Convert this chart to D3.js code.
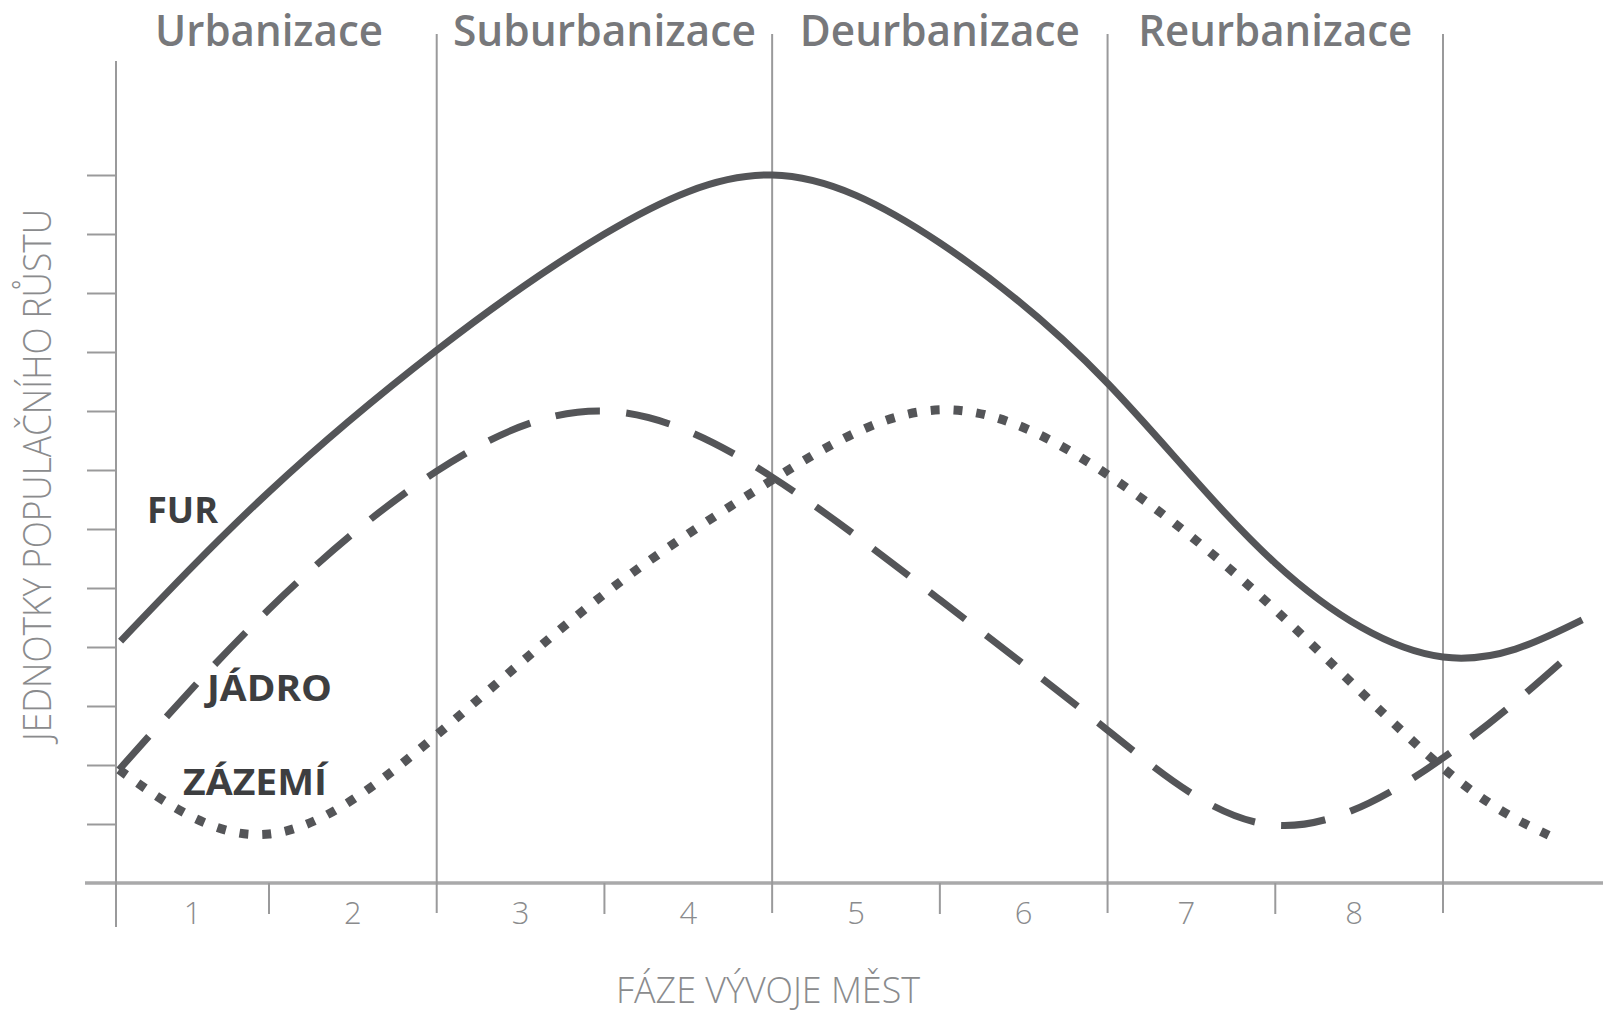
<!DOCTYPE html>
<html>
<head>
<meta charset="utf-8">
<script src="https://cdn.jsdelivr.net/npm/d3@7"></script>
<style>
  body { margin: 0; background: #fff; }
  svg { display: block; }
  text { font-family: "Open Sans", "Noto Sans", sans-serif; }
</style>
</head>
<body>
<div id="chart"></div>
<script>
// phases of city development (top headings)
const phases = ["Urbanizace", "Suburbanizace", "Deurbanizace", "Reurbanizace"];
const stages = ["1", "2", "3", "4", "5", "6", "7", "8"];
const yTicks = [1, 2, 3, 4, 5, 6, 7, 8, 9, 10, 11, 12];

// curves: [stage position, growth units]
const fur = [
  [0.03, 4.1], [1, 6.63], [2, 9.03], [3, 11.0], [4, 12.0], [5, 10.85],
  [6, 8.47], [7, 5.42], [8, 3.83], [8.83, 4.46]
];
const jadro = [
  [0.02, 1.92], [1, 4.64], [2, 6.98], [3, 8.0], [4, 6.88], [5, 4.8],
  [6, 2.59], [7, 0.98], [8, 2.12], [8.7, 3.73]
];
const zazemi = [
  [0.02, 1.92], [1, 0.83], [2, 2.51], [3, 4.9], [4, 6.83], [5, 8.02],
  [6, 6.92], [7, 4.63], [8, 1.95], [8.63, 0.81]
];

const config = {
  width: 1603,
  height: 1013,
  axisColor: "#9a9a9b",
  lineColor: "#545558",
  headColor: "#77787b",
  softText: "#8a8b8d",
};

const svg = d3.select("#chart").append("svg")
  .attr("width", config.width)
  .attr("height", config.height);

// first stage is narrower than the rest
const x = d3.scaleLinear().domain([0, 1, 8]).range([116, 269, 1443]);
const y = d3.scaleLinear().domain([0, 12]).range([883, 175]);

// y ticks (no labels)
const yAxis = svg.append("g")
  .attr("transform", `translate(${x(0)},0)`)
  .call(d3.axisLeft(y).tickValues(yTicks).tickSize(29).tickFormat(""));
yAxis.select(".domain").remove();
yAxis.selectAll("line").attr("stroke", config.axisColor).attr("stroke-width", 2);

// x axis baseline
svg.append("line")
  .attr("x1", 85).attr("x2", config.width)
  .attr("y1", y(0)).attr("y2", y(0))
  .attr("stroke", "#a9a9aa").attr("stroke-width", 3.5);

// phase dividers
const bounds = [0, 2, 4, 6, 8];
svg.selectAll(".divider")
  .data(bounds)
  .join("line")
  .attr("class", "divider")
  .attr("x1", (d) => x(d)).attr("x2", (d) => x(d))
  .attr("y1", (d) => (d === 0 ? 61 : 34))
  .attr("y2", (d) => (d === 0 ? 927 : 913))
  .attr("stroke", config.axisColor)
  .attr("stroke-width", 2);

// minor ticks between dividers
svg.selectAll(".minor")
  .data([1, 3, 5, 7])
  .join("line")
  .attr("class", "minor")
  .attr("x1", (d) => x(d)).attr("x2", (d) => x(d))
  .attr("y1", y(0)).attr("y2", 914)
  .attr("stroke", config.axisColor)
  .attr("stroke-width", 2);

// stage numbers
svg.selectAll(".stage")
  .data(stages)
  .join("text")
  .attr("class", "stage")
  .attr("x", (d, i) => x(i + 0.5) - (i > 5 ? 5 : 0))
  .attr("y", 924)
  .attr("text-anchor", "middle")
  .attr("font-size", 31)
  .attr("font-weight", 300)
  .attr("fill", config.softText)
  .text((d) => d);

// phase headings
const headWidths = [228, 303, 280, 274];
svg.selectAll(".phase")
  .data(phases)
  .join("text")
  .attr("class", "phase")
  .attr("x", (d, i) => x(i * 2 + 1))
  .attr("y", 46)
  .attr("text-anchor", "middle")
  .attr("font-size", 43)
  .attr("font-weight", 600)
  .attr("fill", config.headColor)
  .attr("textLength", (d, i) => headWidths[i])
  .attr("lengthAdjust", "spacingAndGlyphs")
  .text((d) => d);

// axis titles
svg.append("text")
  .attr("x", 768).attr("y", 1003)
  .attr("text-anchor", "middle")
  .attr("font-size", 36)
  .attr("font-weight", 300)
  .attr("fill", config.softText)
  .attr("textLength", 304)
  .attr("lengthAdjust", "spacingAndGlyphs")
  .text("FÁZE VÝVOJE MĚST");

svg.append("text")
  .attr("transform", "translate(51,475) rotate(-90)")
  .attr("text-anchor", "middle")
  .attr("font-size", 39)
  .attr("font-weight", 300)
  .attr("fill", config.softText)
  .attr("textLength", 532)
  .attr("lengthAdjust", "spacingAndGlyphs")
  .text("JEDNOTKY POPULAČNÍHO RŮSTU");

// curves
const line = d3.line()
  .x((d) => x(d[0]))
  .y((d) => y(d[1]))
  .curve(d3.curveNatural);

const series = [
  { name: "FUR", data: fur, width: 7, dash: null },
  { name: "JÁDRO", data: jadro, width: 7, dash: [44, 26] },
  { name: "ZÁZEMÍ", data: zazemi, width: 9, dash: [9, 14] },
];

svg.selectAll(".curve")
  .data(series)
  .join("path")
  .attr("class", "curve")
  .attr("d", (d) => line(d.data))
  .attr("fill", "none")
  .attr("stroke", config.lineColor)
  .attr("stroke-width", (d) => d.width)
  .each(function (d) {
    if (!d.dash) return;
    // stretch the pattern a bit so both ends land on a dash
    const len = this.getTotalLength();
    const [a, g] = d.dash;
    const n = Math.max(1, Math.round((len + g) / (a + g)));
    const s = (len + g) / (n * (a + g));
    d3.select(this).attr("stroke-dasharray", `${a * s},${g * s}`);
  });

// curve labels
const labels = [
  { text: "FUR", x: 147, y: 523, w: 71 },
  { text: "JÁDRO", x: 207, y: 701, w: 125 },
  { text: "ZÁZEMÍ", x: 183, y: 795, w: 144 },
];
svg.selectAll(".label")
  .data(labels)
  .join("text")
  .attr("class", "label")
  .attr("x", (d) => d.x)
  .attr("y", (d) => d.y)
  .attr("font-size", 35)
  .attr("font-weight", 700)
  .attr("fill", "#3d3e40")
  .attr("textLength", (d) => d.w)
  .attr("lengthAdjust", "spacingAndGlyphs")
  .text((d) => d.text);
</script>
</body>
</html>
